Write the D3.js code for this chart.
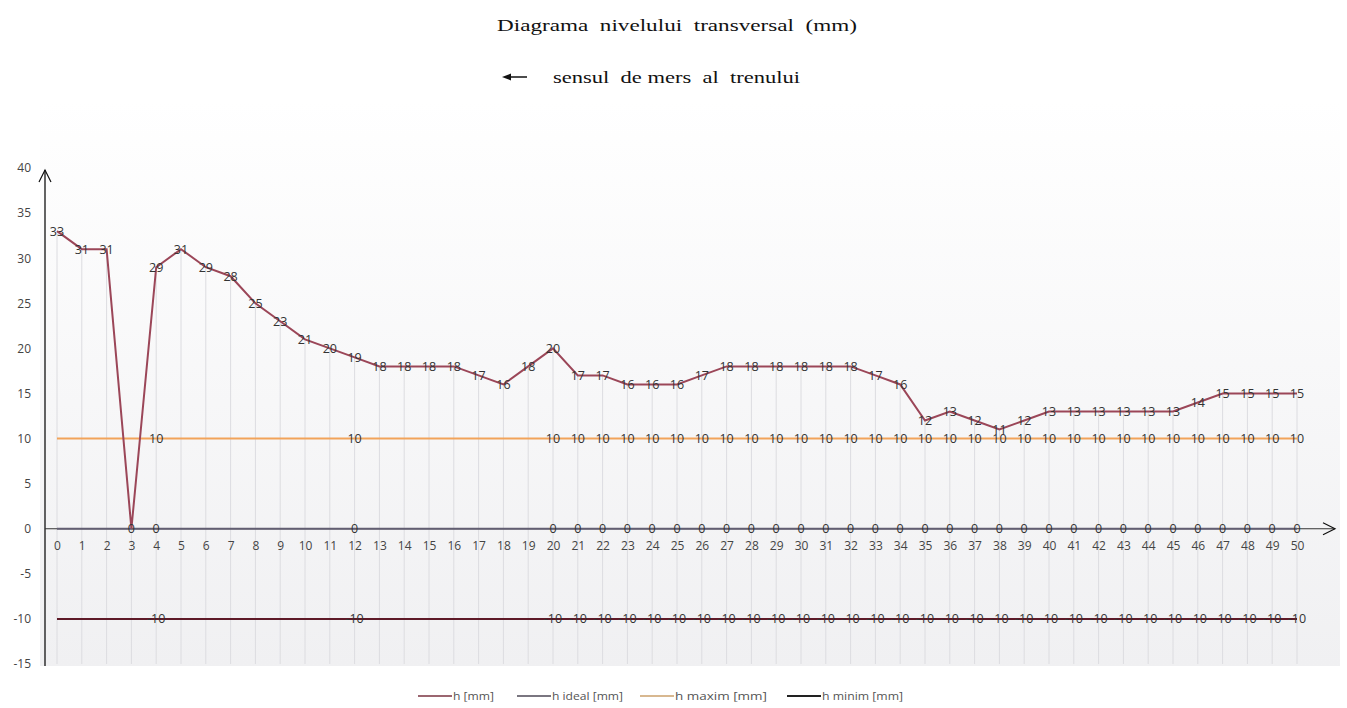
<!DOCTYPE html>
<html>
<head>
<meta charset="utf-8">
<script src="https://cdn.jsdelivr.net/npm/d3@7"></script>
<style>
  body { margin: 0; background: #fff; }
  svg { display: block; }
  .title { white-space: pre; }
</style>
</head>
<body>
<svg width="1347" height="708"></svg>
<script>
// distance points along the track
var positions = d3.range(0, 51);
// measured cross level h [mm]
var hValues = [33, 31, 31, 0, 29, 31, 29, 28, 25, 23, 21, 20, 19, 18, 18, 18, 18, 17, 16, 18,
               20, 17, 17, 16, 16, 16, 17, 18, 18, 18, 18, 18, 18, 17, 16, 12, 13, 12, 11, 12,
               13, 13, 13, 13, 13, 13, 14, 15, 15, 15, 15];
var hIdeal = 0, hMax = 10, hMin = -10;
// points where the reference lines carry a label
var labelledRef = [4, 12].concat(d3.range(20, 51));
var yTicks = [40, 35, 30, 25, 20, 15, 10, 5, 0, -5, -10, -15];
var legendNames = ["h [mm]", "h ideal [mm]", "h maxim [mm]", "h minim [mm]"];

var svg = d3.select("svg");
var sans = "'Open Sans', 'DejaVu Sans', sans-serif";
var serif = "'Liberation Serif', 'Times New Roman', serif";

var x = d3.scaleLinear().domain([0, 50]).range([57, 1297]);
var y = d3.scaleLinear().domain([-15, 40]).range([664, 168]);

// faint plot background
var defs = svg.append("defs");
var grad = defs.append("linearGradient").attr("id", "bg").attr("x1", 0).attr("y1", 0).attr("x2", 0).attr("y2", 1);
grad.append("stop").attr("offset", "0%").attr("stop-color", "#ffffff");
grad.append("stop").attr("offset", "100%").attr("stop-color", "#f0f0f2");
svg.append("rect").attr("x", 40).attr("y", 100).attr("width", 1300).attr("height", 566).attr("fill", "url(#bg)");

// titles (the source image is stretched sideways, hence textLength)
svg.append("text").attr("class", "title").attr("x", 497).attr("y", 31)
  .style("font-family", serif).style("font-size", "17px")
  .attr("textLength", 360).attr("lengthAdjust", "spacingAndGlyphs")
  .attr("fill", "#111").text("Diagrama  nivelului  transversal  (mm)");
svg.append("line").attr("x1", 507).attr("x2", 527).attr("y1", 77).attr("y2", 77)
  .attr("stroke", "#111").attr("stroke-width", 1.5);
svg.append("path").attr("d", "M502,77 L511,73.5 L511,80.5 Z").attr("fill", "#111");
svg.append("text").attr("class", "title").attr("x", 553).attr("y", 83)
  .style("font-family", serif).style("font-size", "17px")
  .attr("textLength", 247).attr("lengthAdjust", "spacingAndGlyphs")
  .attr("fill", "#111").text("sensul  de mers  al  trenului");

// drop lines
svg.append("g").selectAll("line").data(positions).join("line")
  .attr("x1", d => x(d)).attr("x2", d => x(d))
  .attr("y1", d => y(Math.max(hValues[d], 0))).attr("y2", y(-15))
  .attr("stroke", "#dcdce0").attr("stroke-width", 1);

// y axis
var yAxis = d3.axisLeft(y).tickValues(yTicks).tickSize(0).tickPadding(0).tickFormat(d => String(d));
var gY = svg.append("g").attr("transform", "translate(31,0)").call(yAxis);
gY.select(".domain").remove();
gY.selectAll("text").style("font-family", sans).style("font-size", "12px").attr("fill", "#444");

svg.append("line").attr("x1", 45).attr("x2", 45).attr("y1", 666).attr("y2", 170)
  .attr("stroke", "#111").attr("stroke-width", 1.3);
svg.append("path").attr("d", "M39,182 L45,170 L51,182").attr("fill", "none").attr("stroke", "#111").attr("stroke-width", 1.2);

// x axis (at zero) with arrow
svg.append("line").attr("x1", 45).attr("x2", 1335).attr("y1", y(0)).attr("y2", y(0))
  .attr("stroke", "#333").attr("stroke-width", 1.2);
svg.append("path").attr("d", `M1323,${y(0) - 6} L1335,${y(0)} L1323,${y(0) + 6}`)
  .attr("fill", "none").attr("stroke", "#111").attr("stroke-width", 1.2);

var xAxis = d3.axisBottom(x).tickValues(positions).tickSize(0).tickPadding(0).tickFormat(d3.format("d"));
var gX = svg.append("g").attr("transform", "translate(0,541)").call(xAxis);
gX.select(".domain").remove();
gX.selectAll("text").style("font-family", sans).style("font-size", "12px").attr("fill", "#444");

// reference lines
var line = d3.line().x(d => x(d[0])).y(d => y(d[1]));
var refs = [
  { value: hIdeal, color: "#625e72" },
  { value: hMax, color: "#f2a35a" },
  { value: hMin, color: "#5e1a28" }
];
refs.forEach(function (r) {
  svg.append("path").datum(positions.map(p => [p, r.value])).attr("d", line)
    .attr("fill", "none").attr("stroke", r.color).attr("stroke-width", 2);
});

// measured line
svg.append("path").datum(positions.map(p => [p, hValues[p]])).attr("d", line)
  .attr("fill", "none").attr("stroke", "#9b4658").attr("stroke-width", 2);

function addLabels(data, val) {
  svg.append("g").selectAll("text").data(data).join("text")
    .attr("x", d => x(d)).attr("y", d => y(val(d)) + 4.5)
    .attr("text-anchor", "middle")
    .style("font-family", sans).style("font-size", "12.5px").attr("fill", "#333")
    .text(d => val(d));
}
refs.forEach(r => addLabels(labelledRef, () => r.value));
addLabels(positions, d => hValues[d]);

// legend
var legendColors = ["#9b6670", "#7a7680", "#d8b890", "#222"];
var legendX = [418, 517, 640, 787];
var legendW = [41, 71, 92, 81];
var lg = svg.append("g").selectAll("g").data(legendNames).join("g")
  .attr("transform", (d, i) => `translate(${legendX[i]},696)`);
lg.append("line").attr("x1", 0).attr("x2", 34).attr("y1", 0).attr("y2", 0)
  .attr("stroke", (d, i) => legendColors[i]).attr("stroke-width", 2);
lg.append("text").attr("x", 35).attr("y", 4)
  .style("font-family", sans).style("font-size", "11px")
  .attr("textLength", (d, i) => legendW[i]).attr("lengthAdjust", "spacingAndGlyphs")
  .attr("fill", "#555").text(d => d);
</script>
</body>
</html>
